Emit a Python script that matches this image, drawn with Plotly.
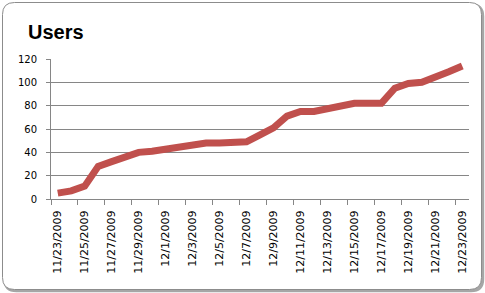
import plotly.graph_objects as go

dates = ["11/23/2009", "11/24/2009", "11/25/2009", "11/26/2009", "11/27/2009",
         "11/28/2009", "11/29/2009", "11/30/2009", "12/1/2009", "12/2/2009",
         "12/3/2009", "12/4/2009", "12/5/2009", "12/6/2009", "12/7/2009",
         "12/8/2009", "12/9/2009", "12/10/2009", "12/11/2009", "12/12/2009",
         "12/13/2009", "12/14/2009", "12/15/2009", "12/16/2009", "12/17/2009",
         "12/18/2009", "12/19/2009", "12/20/2009", "12/21/2009", "12/22/2009",
         "12/23/2009"]
users = [5, 7, 11, 28, 32, 36, 40, 41, 43, 44, 47, 48, 48, 48, 49, 55, 61, 71,
         75, 75, 77, 79, 82, 82, 82, 95, 99, 100, 104, 109, 114]
y_ticks = [0, 20, 40, 60, 80, 100, 120]

W, H = 485, 293
L, R, T, B = 51, 16, 59, 94
PW, PH = W - L - R, H - T - B


def px(x):
    return (x - L) / PW


def py(y):
    return (H - B - y) / PH


def rounded(x0, y0, x1, y1, r):
    p = []
    p.append(f"M {px(x0 + r)} {py(y0)}")
    p.append(f"L {px(x1 - r)} {py(y0)}")
    p.append(f"Q {px(x1)} {py(y0)} {px(x1)} {py(y0 + r)}")
    p.append(f"L {px(x1)} {py(y1 - r)}")
    p.append(f"Q {px(x1)} {py(y1)} {px(x1 - r)} {py(y1)}")
    p.append(f"L {px(x0 + r)} {py(y1)}")
    p.append(f"Q {px(x0)} {py(y1)} {px(x0)} {py(y1 - r)}")
    p.append(f"L {px(x0)} {py(y0 + r)}")
    p.append(f"Q {px(x0)} {py(y0)} {px(x0 + r)} {py(y0)}")
    p.append("Z")
    return " ".join(p)


fig = go.Figure()
fig.add_trace(go.Scatter(
    x=dates, y=users, mode="lines",
    line=dict(color="#C0504D", width=7),
    hoverinfo="skip",
))

shapes = [
    dict(type="path", xref="paper", yref="paper", layer="below",
         path=rounded(4.5, 4.5, 483, 291, 12),
         line=dict(color="#A6A6A6", width=2.5), fillcolor="#A6A6A6"),
    dict(type="path", xref="paper", yref="paper", layer="below",
         path=rounded(2.5, 2.5, 481.5, 289.5, 12),
         line=dict(color="#8C8C8C", width=1), fillcolor="white"),
]

fig.update_layout(
    width=W, height=H,
    margin=dict(l=L, r=R, t=T, b=B, pad=0),
    paper_bgcolor="white",
    plot_bgcolor="rgba(0,0,0,0)",
    showlegend=False,
    shapes=shapes,
    annotations=[dict(
        text="<b>Users</b>", xref="paper", yref="paper",
        x=px(25.5), y=py(31.5), xanchor="left", yanchor="middle",
        showarrow=False,
        font=dict(family="Liberation Sans", size=20, color="black"),
    )],
    xaxis=dict(
        type="category", categoryorder="array", categoryarray=dates,
        tickmode="linear", tick0=0, dtick=2,
        tickson="boundaries", ticks="outside", ticklen=5, tickcolor="#868686",
        tickangle=-90, ticklabelstandoff=6,
        tickfont=dict(family="DejaVu Sans", size=11, color="black"),
        showgrid=False, showline=True, linecolor="#868686", linewidth=1,
        range=[-0.5, 30.5], fixedrange=True,
    ),
    yaxis=dict(
        range=[0, 120], tickvals=y_ticks,
        ticks="outside", ticklen=4, tickcolor="#868686",
        ticklabelstandoff=7,
        tickfont=dict(family="DejaVu Sans", size=10, color="black"),
        showgrid=True, gridcolor="#868686", gridwidth=1,
        showline=True, linecolor="#868686", linewidth=1,
        zeroline=False, fixedrange=True,
    ),
)

fig.write_html("out.html")
